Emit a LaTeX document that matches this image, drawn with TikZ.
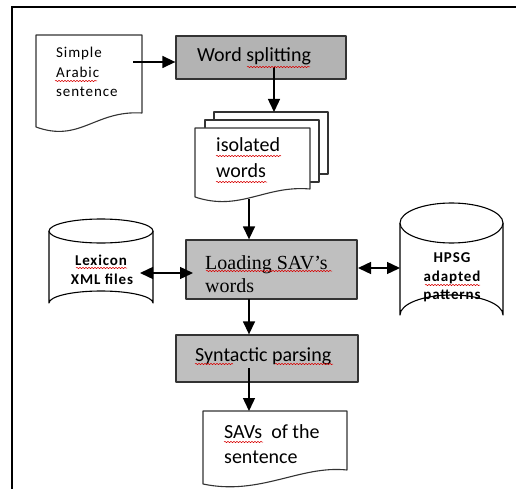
\documentclass[tikz,border=0pt]{standalone}
\usepackage{fontspec}
\setmainfont{Carlito}
\newfontfamily\tnr{Liberation Serif}
\newfontfamily\spaced[LetterSpace=6]{Carlito}
\usetikzlibrary{arrows.meta,decorations.pathmorphing}
\definecolor{boxgrayA}{HTML}{B3B3B3}
\definecolor{boxgrayB}{HTML}{BFBFBF}
\definecolor{edgegray}{HTML}{333333}
\begin{document}
\begin{tikzpicture}[x=1pt,y=-1pt,line join=round,
  procbox/.style={draw=edgegray,line width=1.3pt,inner sep=0pt},
  docshape/.style={draw=edgegray,line width=1.1pt,fill=white},
  arr/.style={line width=1.4pt,-{Triangle[length=13pt,width=12pt]}},
  dbl/.style={line width=1.4pt,{Triangle[length=13pt,width=12pt]}-{Triangle[length=13pt,width=12pt]}},
  txt/.style={anchor=base west,inner sep=0pt},
  ctxt/.style={anchor=base,inner sep=0pt},
  big/.style={font=\fontsize{20}{24}\selectfont},
  small/.style={font=\spaced\fontsize{15}{18}\selectfont},
  smallb/.style={font=\spaced\fontsize{15}{18}\selectfont\bfseries},
  serifbig/.style={font=\tnr\fontsize{20}{24}\selectfont},
  spell/.style={draw=red!85!black,line width=0.5pt,decorate,decoration={snake,amplitude=0.7pt,segment length=3pt}}]
\useasboundingbox (0,0) rectangle (516,489);
% outer frame (top and left edges only)
\draw[line width=2pt] (11,7) -- (516,7);
\draw[line width=2pt] (12,7) -- (12,489);

% Simple Arabic sentence document
\draw[docshape] (36,35) -- (142,35) -- (142,113) .. controls (95,110) and (80,143) .. (36,127) -- cycle;
\node[txt,small] (s1) at (56,58) {Simple};
\node[txt,small] (s2) at (56,78) {Arabic};
\node[txt,small] (s3) at (56,97) {sentence};

% Word splitting
\node[procbox,fill=boxgrayA,minimum width=170pt,minimum height=43pt] (ws) at (261,57.5) {};
\node[txt,big] (wst) at (197,62) {Word splitting};

% isolated words (multi-document)
\draw[docshape] (214,112) rectangle (328,174);
\draw[docshape] (205,120) rectangle (319,182);
\draw[docshape] (195,128) -- (310,128) -- (310,189) .. controls (265,185) and (240,212) .. (195,197) -- cycle;
\node[txt,big] (iw1) at (216,152) {isolated};
\node[txt,big] (iw2) at (216,177) {words};

% Loading SAV's words
\node[procbox,fill=boxgrayB,minimum width=171pt,minimum height=59pt] (load) at (271.5,269.5) {};
\node[txt,serifbig] (ld1) at (205,269) {Loading SAV’s};
\node[txt,serifbig] (ld2) at (205,292) {words};

% Lexicon cylinder
\draw[line width=1.1pt,fill=white] (49,231) -- (49,303) arc[start angle=180,end angle=360,x radius=52,y radius=12] -- (153,231);
\draw[line width=1.1pt,fill=white] (101,231) ellipse[x radius=52,y radius=12];
\node[ctxt,smallb] (lx1) at (101,265) {Lexicon};
\node[ctxt,smallb] (lx2) at (102,284) {XML files};

% HPSG cylinder
\draw[line width=1.1pt,fill=white] (400,223) -- (400,315) arc[start angle=180,end angle=360,x radius=51.5,y radius=20] -- (503,223);
\draw[line width=1.1pt,fill=white] (451.5,223) ellipse[x radius=51.5,y radius=20];
\node[ctxt,smallb] (hp1) at (452,262) {HPSG};
\node[ctxt,smallb] (hp2) at (452,281) {adapted};
\node[ctxt,smallb] (hp3) at (452,299) {patterns};

% Syntactic parsing
\node[procbox,fill=boxgrayB,minimum width=182pt,minimum height=47pt] (syn) at (267,358.5) {};
\node[txt,big] (synt) at (195,361) {Syntactic parsing};

% SAVs of the sentence document
\draw[docshape] (203,411) -- (347,411) -- (347,470) .. controls (300,465) and (260,496) .. (203,484) -- cycle;
\node[txt,big] (sv1) at (224,438) {SAVs\ \ of the};
\node[txt,big] (sv2) at (224,463) {sentence};

% connector end points
\coordinate (a1s) at (133,62);
\coordinate (a2s) at (274,67);
\coordinate (a2e) at (274,112);
\coordinate (a3s) at (249,199);
\coordinate (a4s) at (249,299);
\coordinate (a5s) at (249,368);
\coordinate (a5e) at (249,411);
\coordinate (lxa) at (140,273);
\coordinate (lxb) at (193,273);
\coordinate (hpa) at (358,268);
\coordinate (hpb) at (400,268);

\draw[arr] (a1s) -- (ws.west |- a1s);
\draw[arr] (a2s) -- (a2e);
\draw[arr] (a3s) -- (a3s |- load.north);
\draw[arr] (a4s) -- (a4s |- syn.north);
\draw[arr] (a5s) -- (a5e);
\draw[dbl] (lxa) -- (lxb);
\draw[dbl] (hpa) -- (hpb);

% spell-check underlines
\draw[spell] (55,81) -- (97,81);
\draw[spell] (247,67) -- (310,67);
\draw[spell] (216,156) -- (281,156);
\draw[spell] (216,182) -- (267,182);
\draw[spell] (206,271) -- (332,271);
\draw[spell] (76,268) -- (127,268);
\draw[spell] (425,285) -- (480,285);
\draw[spell] (195,364) -- (233,364);
\draw[spell] (275,364) -- (333,364);
\draw[spell] (224,442) -- (263,442);
\end{tikzpicture}
\end{document}
